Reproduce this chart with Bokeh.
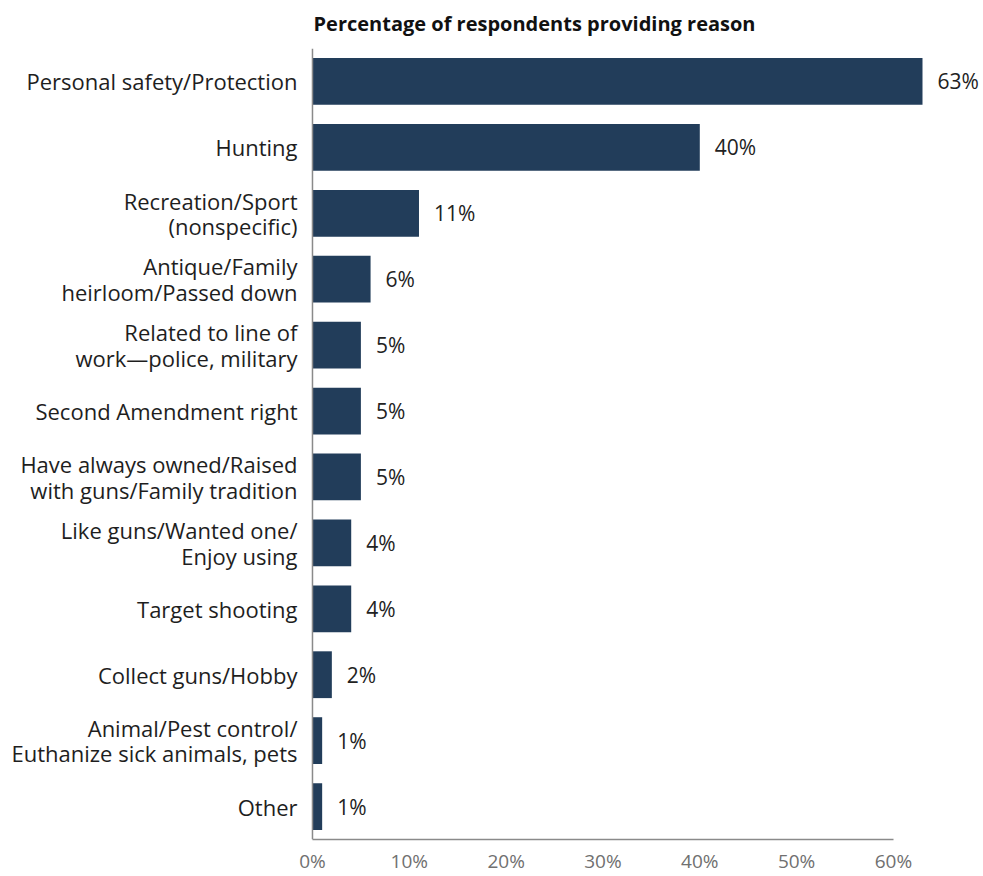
from bokeh.plotting import figure
from bokeh.models import ColumnDataSource, FixedTicker, PrintfTickFormatter, Range1d, Span
from bokeh.core.properties import value
from bokeh.embed import file_html
from bokeh.resources import INLINE

categories = [
    "Personal safety/Protection",
    "Hunting",
    "Recreation/Sport\n(nonspecific)",
    "Antique/Family\nheirloom/Passed down",
    "Related to line of\nwork\u2014police, military",
    "Second Amendment right",
    "Have always owned/Raised\nwith guns/Family tradition",
    "Like guns/Wanted one/\nEnjoy using",
    "Target shooting",
    "Collect guns/Hobby",
    "Animal/Pest control/\nEuthanize sick animals, pets",
    "Other",
]
values = [63, 40, 11, 6, 5, 5, 5, 4, 4, 2, 1, 1]
tick_values = [0, 10, 20, 30, 40, 50, 60]

FONT = "Open Sans"
BAR = "#223d5a"
AXIS = "#8a8a8a"

src = ColumnDataSource(dict(
    cat=categories,
    val=values,
    zero=[0] * len(values),
    lab=[f"{v}%" for v in values],
))

p = figure(
    width=983, height=876,
    y_range=list(reversed(categories)),
    x_range=Range1d(-32.22, 69.30),
    output_backend="svg", toolbar_location=None,
    min_border_left=0, min_border_right=0, min_border_bottom=28, min_border_top=0,
    title="Percentage of respondents providing reason",
)
p.y_range.range_padding = 0
p.outline_line_color = None
p.grid.grid_line_color = None

p.title.text_font = FONT
p.title.text_font_size = "20px"
p.title.text_font_style = "bold"
p.title.text_color = "#111111"
p.title.align = "left"
p.title.offset = 313
p.title.standoff = 19
p.title.vertical_align = "top"

p.hbar(y="cat", right="val", left=0, height=0.71, source=src,
       fill_color=BAR, line_color=None)
# value labels
p.text(x="val", y="cat", text="lab", source=src, x_offset=15,
       text_font=value(FONT), text_font_size="21px", text_color="#222222",
       text_baseline="middle", text_align="left")
# category labels
p.text(x="zero", y="cat", text="cat", source=src, x_offset=-15,
       text_font=value(FONT), text_font_size="22px", text_color="#1e1e1e",
       text_baseline="middle", text_align="right", text_line_height=0.85)

p.add_layout(Span(location=0, dimension="height", line_color=AXIS, line_width=1.5))

xa = p.xaxis[0]
xa.ticker = FixedTicker(ticks=tick_values)
xa.formatter = PrintfTickFormatter(format="%d%%")
xa.bounds = (0, 60)
xa.axis_line_color = AXIS
xa.axis_line_width = 1.5
xa.major_tick_line_color = None
xa.minor_tick_line_color = None
xa.major_label_text_font = FONT
xa.major_label_text_font_size = "19px"
xa.major_label_text_color = "#707070"
xa.major_label_standoff = 2

p.yaxis.visible = False

open("out.html", "w").write(file_html(p, INLINE))
